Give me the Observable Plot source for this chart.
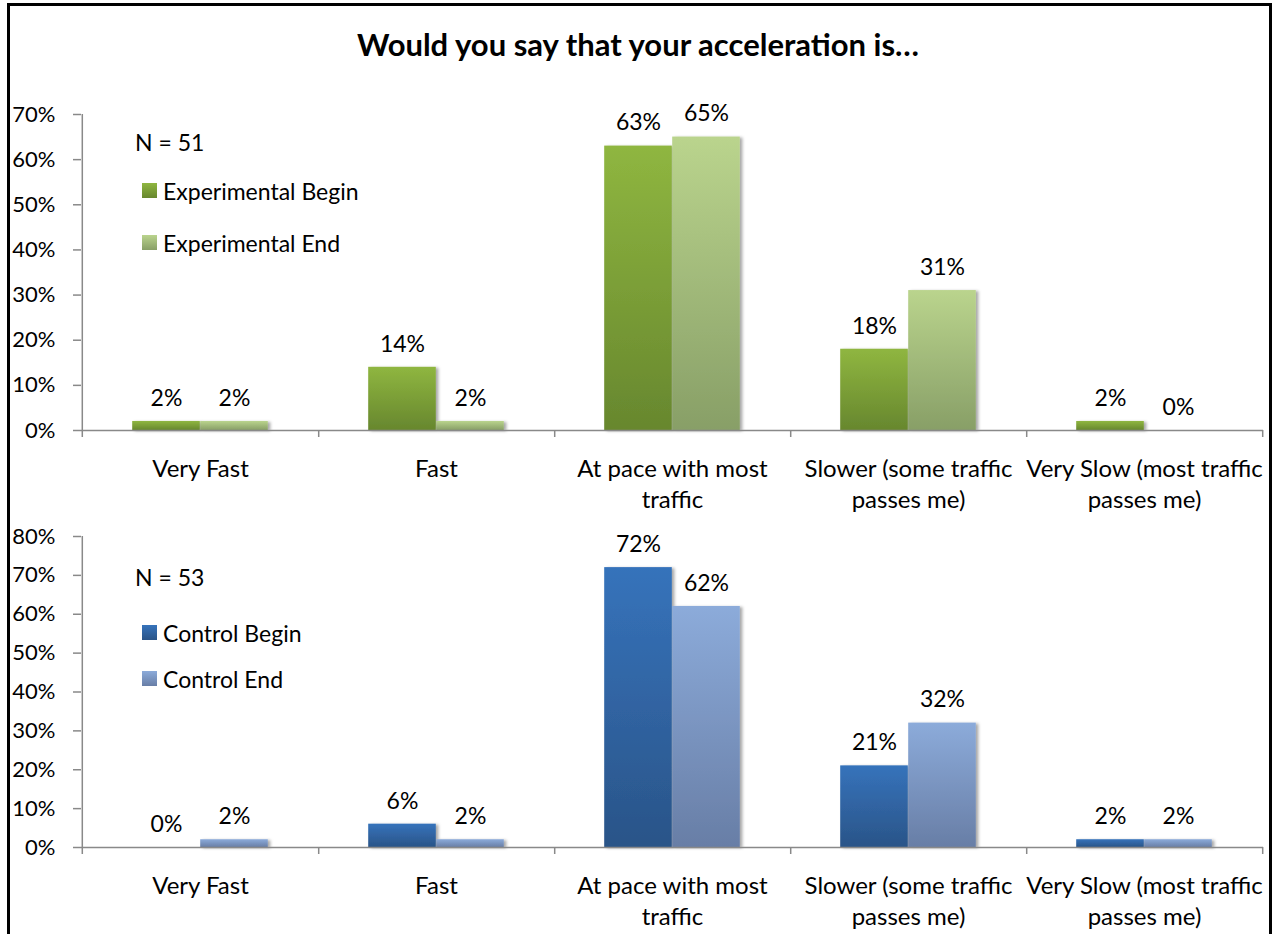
<!DOCTYPE html>
<html><head><meta charset="utf-8">
<script src="https://cdn.jsdelivr.net/npm/d3@7"></script>
<script src="https://cdn.jsdelivr.net/npm/@observablehq/plot@0.6"></script>
<style>
body{margin:0;background:#fff;width:1276px;height:934px;overflow:hidden;position:relative;font-family:Lato,"Open Sans",sans-serif;color:#000;}
#frame{position:absolute;left:7px;top:3px;width:1259px;height:1000px;border:3px solid #000;}
#title{position:absolute;left:0;width:1276px;top:26px;text-align:center;font-weight:bold;font-size:31px;line-height:36px;}
.panel{position:absolute;left:0;}
.note{position:absolute;font-size:23px;line-height:24px;white-space:nowrap;}
.sw{position:absolute;width:15px;height:15px;}
</style></head><body>
<div id="frame"></div>
<div id="title">Would you say that your acceleration is…</div>
<div id="root"></div>
<script>
// ---- data ----
const categories = ["Very Fast", "Fast", "At pace with most traffic", "Slower (some traffic passes me)", "Very Slow (most traffic passes me)"];
const categoryLines = ["Very Fast", "Fast", "At pace with most\ntraffic", "Slower (some traffic\npasses me)", "Very Slow (most traffic\npasses me)"];
const expSeries = ["Experimental Begin", "Experimental End"];
const expBegin = [2, 14, 63, 18, 2];
const expEnd = [2, 2, 65, 31, 0];
const expN = "N = 51";
const expTicks = [0, 10, 20, 30, 40, 50, 60, 70];
const ctrlSeries = ["Control Begin", "Control End"];
const ctrlBegin = [0, 6, 72, 21, 2];
const ctrlEnd = [2, 2, 62, 32, 2];
const ctrlN = "N = 53";
const ctrlTicks = [0, 10, 20, 30, 40, 50, 60, 70, 80];
const seriesColors = {
  "Experimental Begin": ["#8fb640", "#67872e"],
  "Experimental End": ["#bad48d", "#889f67"],
  "Control Begin": ["#3673bb", "#2a5488"],
  "Control End": ["#8cabda", "#687ea6"]
};
const title = "Would you say that your acceleration is…";

// ---- layout ----
const W = 1276, mL = 81, mR = 13, mB = 90;
const bw = (W - mL - mR) / categories.length;
const barW = 68;
const axisGrey = "#898989";
const root = document.getElementById("root");
document.getElementById("title").textContent = title;

function panel({id, top, marginTop, frameH, ticks, series, values, n, nTop, legTop, legGap}) {
  const rows = [];
  series.forEach((s, si) => categories.forEach((c, ci) => rows.push({series: s, side: si, cat: c, value: values[si][ci]})));
  const height = marginTop + frameH + mB;
  const gid = s => id + "_" + series.indexOf(s);
  const svg = Plot.plot({
    width: W, height,
    marginLeft: mL, marginRight: mR, marginTop, marginBottom: mB,
    style: {fontFamily: "Lato, 'Open Sans', sans-serif", color: "#000", background: "transparent", overflow: "visible"},
    x: {type: "band", domain: categories, padding: 0, axis: null},
    y: {domain: [0, ticks[ticks.length - 1]], axis: null},
    marks: [
      Plot.barY(rows.filter(d => d.side === 0), {x: "cat", y: "value", fill: d => `url(#${gid(d.series)})`,
        insetLeft: bw / 2 - barW, insetRight: bw / 2}),
      Plot.barY(rows.filter(d => d.side === 1), {x: "cat", y: "value", fill: d => `url(#${gid(d.series)})`,
        insetLeft: bw / 2, insetRight: bw / 2 - barW}),
      Plot.ruleY([0], {stroke: axisGrey, strokeWidth: 1.5}),
      Plot.text(rows.filter(d => d.side === 0), {x: "cat", y: "value", text: d => d.value + "%", dx: -barW / 2, dy: -23, fontSize: 23, lineAnchor: "middle"}),
      Plot.text(rows.filter(d => d.side === 1), {x: "cat", y: "value", text: d => d.value + "%", dx: barW / 2, dy: -23, fontSize: 23, lineAnchor: "middle"}),
      Plot.axisY({ticks, label: null, tickFormat: d => d + "%", tickSize: 8, tickPadding: 18, fontSize: 22, stroke: axisGrey, fill: "#000", strokeWidth: 1.5}),
      Plot.ruleX([categories[0]], {x: d => d, dx: -bw / 2, insetBottom: -7, stroke: axisGrey, strokeWidth: 1.5}),
      Plot.ruleX(categories, {x: d => d, dx: bw / 2, insetTop: frameH, insetBottom: -7, stroke: axisGrey, strokeWidth: 1.5}),
      Plot.text(categories, {x: d => d, text: (d, i) => categoryLines[i], frameAnchor: "bottom", lineAnchor: "top", dy: 24, fontSize: 24, lineHeight: 1.3})
    ]
  });
  const defs = series.map((s, i) => {
    const [a, b] = seriesColors[s];
    return `<linearGradient id="${gid(s)}" x1="0" y1="0" x2="0" y2="1"><stop offset="0" stop-color="${a}"/><stop offset="1" stop-color="${b}"/></linearGradient>`;
  }).join("") + `<filter id="${id}_sh" x="-10%" y="-10%" width="130%" height="130%"><feDropShadow dx="2.5" dy="1" stdDeviation="1.5" flood-color="#000" flood-opacity="0.35"/></filter>`;
  svg.insertAdjacentHTML("afterbegin", `<defs>${defs}</defs>`);
  svg.querySelectorAll('g[aria-label="bar"]').forEach(g => g.setAttribute("filter", `url(#${id}_sh)`));
  const wrap = document.createElement("div");
  wrap.className = "panel";
  wrap.style.top = top + "px";
  wrap.appendChild(svg);
  root.appendChild(wrap);

  const nEl = document.createElement("div");
  nEl.className = "note"; nEl.textContent = n;
  nEl.style.left = "135px"; nEl.style.top = nTop + "px";
  root.appendChild(nEl);
  series.forEach((s, i) => {
    const [a, b] = seriesColors[s];
    const sw = document.createElement("div");
    sw.className = "sw";
    sw.style.left = "142px"; sw.style.top = (legTop + i * legGap) + "px";
    sw.style.background = `linear-gradient(${a}, ${b})`;
    root.appendChild(sw);
    const t = document.createElement("div");
    t.className = "note"; t.textContent = s;
    t.style.left = "163px"; t.style.top = (legTop + i * legGap - 4) + "px";
    root.appendChild(t);
  });
}

panel({id: "exp", top: 100, marginTop: 14, frameH: 316, ticks: expTicks, series: expSeries, values: [expBegin, expEnd], n: expN, nTop: 130, legTop: 183, legGap: 52});
panel({id: "ctrl", top: 520, marginTop: 16, frameH: 311, ticks: ctrlTicks, series: ctrlSeries, values: [ctrlBegin, ctrlEnd], n: ctrlN, nTop: 565, legTop: 625, legGap: 46});
</script>
</body></html>
